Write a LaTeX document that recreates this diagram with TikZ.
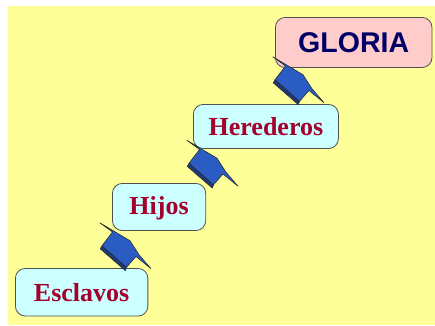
\documentclass[tikz,border=0pt]{standalone}
\usepackage{fontspec}
\setmainfont{Liberation Serif}
\newfontfamily\headfont{Liberation Sans}
\definecolor{bgyellow}{HTML}{FFFF99}
\definecolor{cyanbox}{HTML}{CCFFFF}
\definecolor{pinkbox}{HTML}{FFCCCC}
\definecolor{wine}{HTML}{A3002B}
\definecolor{navytext}{HTML}{000066}
\definecolor{capblue}{HTML}{2A5CC4}
\definecolor{capdark}{HTML}{20397A}
\definecolor{edgegrey}{HTML}{505050}
\tikzset{
  stepbox/.style={draw=edgegrey,line width=0.6pt,rounded corners=7.5pt,inner sep=0pt,anchor=north west},
  lowbox/.style={stepbox,fill=cyanbox,text=wine,font=\fontsize{19.5}{20}\selectfont\bfseries},
  topbox/.style={stepbox,fill=pinkbox,text=navytext,font=\headfont\fontsize{21.4}{22}\selectfont\bfseries},
  capshape/.style={draw=black!85,line width=0.4pt,line join=miter},
  mortarboard/.pic={
    \path[capshape,fill=capdark] (102,245.7) -- (100.3,248.9) -- (125.3,270.6) -- (126.5,267.3) -- cycle;
    \path[capshape,fill=capblue] (99.7,222.7) -- (130,240.7) -- (139,254.7) -- (151,268.7) -- (136,256.5) -- (126.5,267.3) -- (102,245.7) -- (112.5,232) -- cycle;
  }
}
\begin{document}
\begin{tikzpicture}[x=0.75pt,y=-0.75pt]
\useasboundingbox (0,0) rectangle (435,325);
\fill[white] (0,0) rectangle (435,325);
\fill[bgyellow] (8,6) rectangle (435,325);
\node[lowbox,minimum width=132bp*0.75,minimum height=47.5bp*0.75] (esclavos) at (15,268) {Esclavos};
\node[lowbox,minimum width=93bp*0.75,minimum height=47bp*0.75,text depth=2.5pt] (hijos) at (112,183) {Hijos};
\node[lowbox,minimum width=144.5bp*0.75,minimum height=44bp*0.75] (herederos) at (193,104) {Herederos};
\node[topbox,minimum width=156bp*0.75,minimum height=50bp*0.75] (gloria) at (275,17) {GLORIA};
\pic at (0,0) {mortarboard};
\pic at (87,-82.5) {mortarboard};
\pic at (173,-166) {mortarboard};
\end{tikzpicture}
\end{document}
